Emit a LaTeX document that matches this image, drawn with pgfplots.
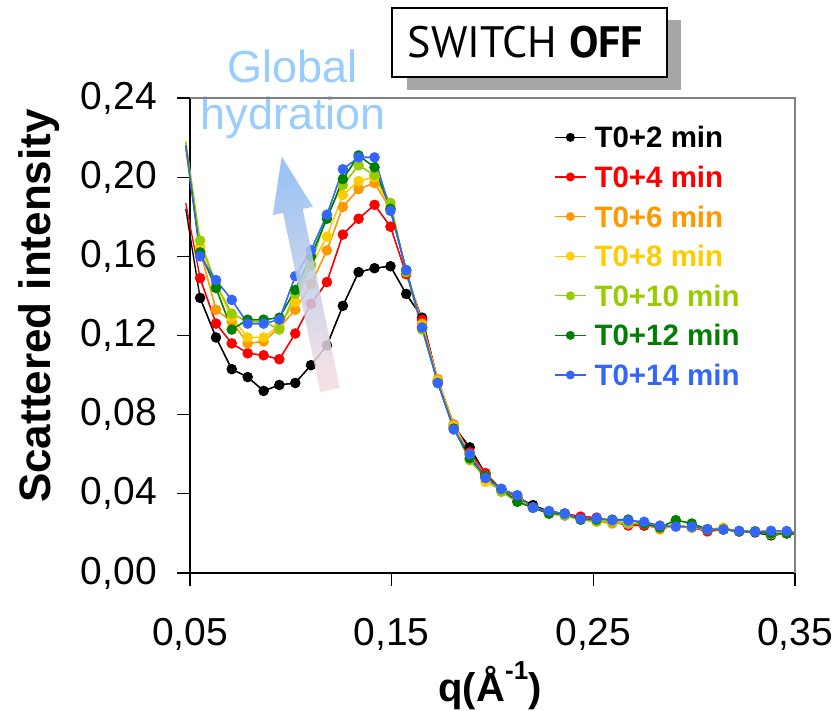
\documentclass[border=0pt]{standalone}
\usepackage{pgfplots}
\pgfplotsset{compat=1.18}
\usepackage{pgfplotstable}
\usepackage{fontspec}
\setmainfont{Liberation Sans}
\newfontfamily\ptsans{PT Sans}
\definecolor{cblack}{RGB}{0,0,0}
\definecolor{cred}{RGB}{255,0,0}
\definecolor{corange}{RGB}{255,153,0}
\definecolor{cyellow}{RGB}{255,204,0}
\definecolor{clgreen}{RGB}{153,204,0}
\definecolor{cdgreen}{RGB}{0,128,0}
\definecolor{cblue}{RGB}{51,102,255}
\definecolor{hyd}{RGB}{153,204,255}
\definecolor{shadowgray}{RGB}{166,166,166}
\definecolor{arrtop}{RGB}{140,186,242}
\definecolor{arrmid}{RGB}{196,160,200}
\definecolor{arrbot}{RGB}{242,220,224}

\pgfplotstableread{
q      s2     s4     s6     s8     s10    s12    s14
0.0479 0.184  0.187  0.214  0.218  0.218  0.216  0.216
0.0550 0.139  0.149  0.163  0.165  0.168  0.162  0.160
0.0629 0.119  0.126  0.133  0.146  0.146  0.144  0.148
0.0707 0.103  0.116  0.127  0.129  0.131  0.123  0.138
0.0786 0.099  0.111  0.116  0.119  0.127  0.128  0.126
0.0865 0.092  0.110  0.117  0.119  0.127  0.128  0.126
0.0943 0.095  0.108  0.124  0.125  0.123  0.129  0.128
0.1022 0.096  0.121  0.133  0.137  0.141  0.143  0.150
0.1100 0.105  0.136  0.146  0.155  0.156  0.160  0.163
0.1179 0.115  0.147  0.163  0.170  0.181  0.179  0.181
0.1258 0.135  0.171  0.185  0.191  0.196  0.199  0.204
0.1336 0.152  0.179  0.194  0.198  0.206  0.211  0.210
0.1415 0.154  0.186  0.197  0.200  0.201  0.205  0.210
0.1494 0.155  0.175  0.184  0.185  0.187  0.184  0.183
0.1572 0.141  0.151  0.153  0.153  0.152  0.153  0.153
0.1651 0.129  0.128  0.126  0.125  0.123  0.124  0.124
0.1729 0.097  0.097  0.098  0.097  0.096  0.096  0.096
0.1808 0.074  0.075  0.075  0.074  0.073  0.073  0.0725
0.1887 0.0635 0.061  0.060  0.060  0.057  0.058  0.060
0.1965 0.050  0.0505 0.049  0.046  0.048  0.049  0.048
0.2044 0.042  0.042  0.042  0.042  0.041  0.0425 0.0425
0.2123 0.038  0.038  0.037  0.037  0.036  0.036  0.0393
0.2201 0.0343 0.033  0.033  0.033  0.033  0.033  0.033
0.2280 0.031  0.031  0.030  0.031  0.030  0.030  0.0313
0.2358 0.030  0.030  0.029  0.030  0.029  0.030  0.030
0.2437 0.028  0.0285 0.027  0.027  0.027  0.027  0.0274
0.2516 0.027  0.028  0.026  0.027  0.026  0.027  0.0276
0.2594 0.026  0.026  0.025  0.026  0.026  0.027  0.0267
0.2673 0.025  0.024  0.025  0.025  0.025  0.027  0.0265
0.2752 0.024  0.024  0.025  0.025  0.025  0.025  0.0259
0.2830 0.023  0.023  0.022  0.024  0.023  0.023  0.0239
0.2909 0.024  0.024  0.024  0.024  0.024  0.0267 0.0234
0.2988 0.023  0.023  0.023  0.023  0.023  0.025  0.0234
0.3066 0.022  0.021  0.022  0.022  0.022  0.022  0.0222
0.3145 0.022  0.022  0.022  0.023  0.022  0.022  0.022
0.3223 0.021  0.021  0.021  0.021  0.021  0.021  0.0213
0.3302 0.0205 0.021  0.021  0.021  0.021  0.021  0.0208
0.3381 0.019  0.020  0.021  0.021  0.0195 0.020  0.0213
0.3459 0.020  0.020  0.021  0.021  0.020  0.020  0.0212
0.3502 0.020  0.0195 0.0205 0.0205 0.020  0.020  0.0205
}\datatable

\pgfplotsset{
  serline/.style={#1, line width=1.3pt, no markers, forget plot},
  sermark/.style={#1, line width=1.3pt, mark=*, mark size=4.6pt, restrict x to domain=0.05:0.349},
}

\begin{document}
\begin{tikzpicture}
\useasboundingbox (0pt,0pt) rectangle (840pt,711pt);
% title box with shadow
\fill[shadowgray] (407pt,621pt) rectangle (681pt,691pt);
\draw[fill=white, line width=1.5pt] (392pt,634pt) rectangle (667pt,703pt);
\node[anchor=base, inner sep=0pt, font=\ptsans\fontsize{44}{44}\selectfont] at (525.5pt,653pt) {SWITCH \textbf{OFF}};
% global hydration text
\node[anchor=base, inner sep=0pt, text=hyd, font=\fontsize{45}{45}\selectfont] at (292.5pt,628pt) {Global};
\node[anchor=base, inner sep=0pt, text=hyd, font=\fontsize{45}{45}\selectfont] at (293.3pt,581pt) {hydration};
\begin{axis}[
  at={(190pt,138pt)}, anchor=south west,
  scale only axis, width=605pt, height=475pt,
  xmin=0.05, xmax=0.35, ymin=0, ymax=0.24,
  clip=false,
  xtick={0.05,0.15,0.25,0.35},
  ytick={0,0.04,0.08,0.12,0.16,0.2,0.24},
  axis x line*=bottom, axis y line*=left,
  axis line style={line width=1.3pt, black},
  tick style={line width=1.3pt, black},
  tick align=outside, major tick length=13pt,
  xticklabel style={font=\fontsize{39}{39}\selectfont, inner sep=0pt, anchor=north, yshift=-32pt},
  yticklabel style={font=\fontsize{39}{39}\selectfont, inner sep=0pt, anchor=east, xshift=-20pt},
  /pgf/number format/use comma,
  /pgf/number format/fixed,
  /pgf/number format/fixed zerofill,
  /pgf/number format/precision=2,
  /pgf/number format/assume math mode=true,
  legend style={at={(rel axis cs:0.6017,0.9396)}, anchor=north west, draw=none, fill=none,
    inner sep=0pt, font=\bfseries\fontsize{29.5}{29.5}\selectfont, row sep=18.6pt,
    nodes={inner sep=0pt, text height=21pt, text depth=0pt},
    /tikz/every odd column/.style={column sep=8pt}},
  legend cell align=left,
  legend image code/.code={\draw[mark repeat=2,mark phase=2,#1,mark size=3.8pt] plot coordinates {(0pt,0pt) (15.5pt,0pt) (31pt,0pt)};},
]
\addplot[serline=cblack] table[x=q,y=s2] {\datatable};
\addplot[sermark=cblack] table[x=q,y=s2] {\datatable};
\addlegendentry{\textcolor{cblack}{T0+2 min}}
\addplot[serline=cred] table[x=q,y=s4] {\datatable};
\addplot[sermark=cred] table[x=q,y=s4] {\datatable};
\addlegendentry{\textcolor{cred}{T0+4 min}}
\addplot[serline=corange] table[x=q,y=s6] {\datatable};
\addplot[sermark=corange] table[x=q,y=s6] {\datatable};
\addlegendentry{\textcolor{corange}{T0+6 min}}
\addplot[serline=cyellow] table[x=q,y=s8] {\datatable};
\addplot[sermark=cyellow] table[x=q,y=s8] {\datatable};
\addlegendentry{\textcolor{cyellow}{T0+8 min}}
\addplot[serline=clgreen] table[x=q,y=s10] {\datatable};
\addplot[sermark=clgreen] table[x=q,y=s10] {\datatable};
\addlegendentry{\textcolor{clgreen}{T0+10 min}}
\addplot[serline=cdgreen] table[x=q,y=s12] {\datatable};
\addplot[sermark=cdgreen] table[x=q,y=s12] {\datatable};
\addlegendentry{\textcolor{cdgreen}{T0+12 min}}
\addplot[serline=cblue] table[x=q,y=s14] {\datatable};
\addplot[sermark=cblue] table[x=q,y=s14] {\datatable};
\addlegendentry{\textcolor{cblue}{T0+14 min}}
\draw[gray, line width=1.3pt] (rel axis cs:0,1) -- (rel axis cs:1,1) -- (rel axis cs:1,0);
\end{axis}
% hydration arrow (semi-transparent, over the data)
\shade[top color=arrtop, middle color=arrmid, bottom color=arrbot, shading angle=11.7, opacity=0.85]
  (281.7pt,554.3pt) -- (313.0pt,504.2pt) -- (302.7pt,502.1pt) -- (339.8pt,323.0pt)
  -- (320.2pt,319.0pt) -- (283.1pt,498.0pt) -- (272.8pt,495.9pt) -- cycle;
% axis labels
\node[rotate=90, anchor=base, inner sep=0pt, font=\bfseries\fontsize{44}{44}\selectfont] at (50pt,405pt) {Scattered intensity};
\node[anchor=base, inner sep=0pt, font=\bfseries\fontsize{40}{40}\selectfont] at (490pt,9pt) {q(Å\raisebox{0.55em}{\fontsize{26}{26}\selectfont -1})};
\end{tikzpicture}
\end{document}
